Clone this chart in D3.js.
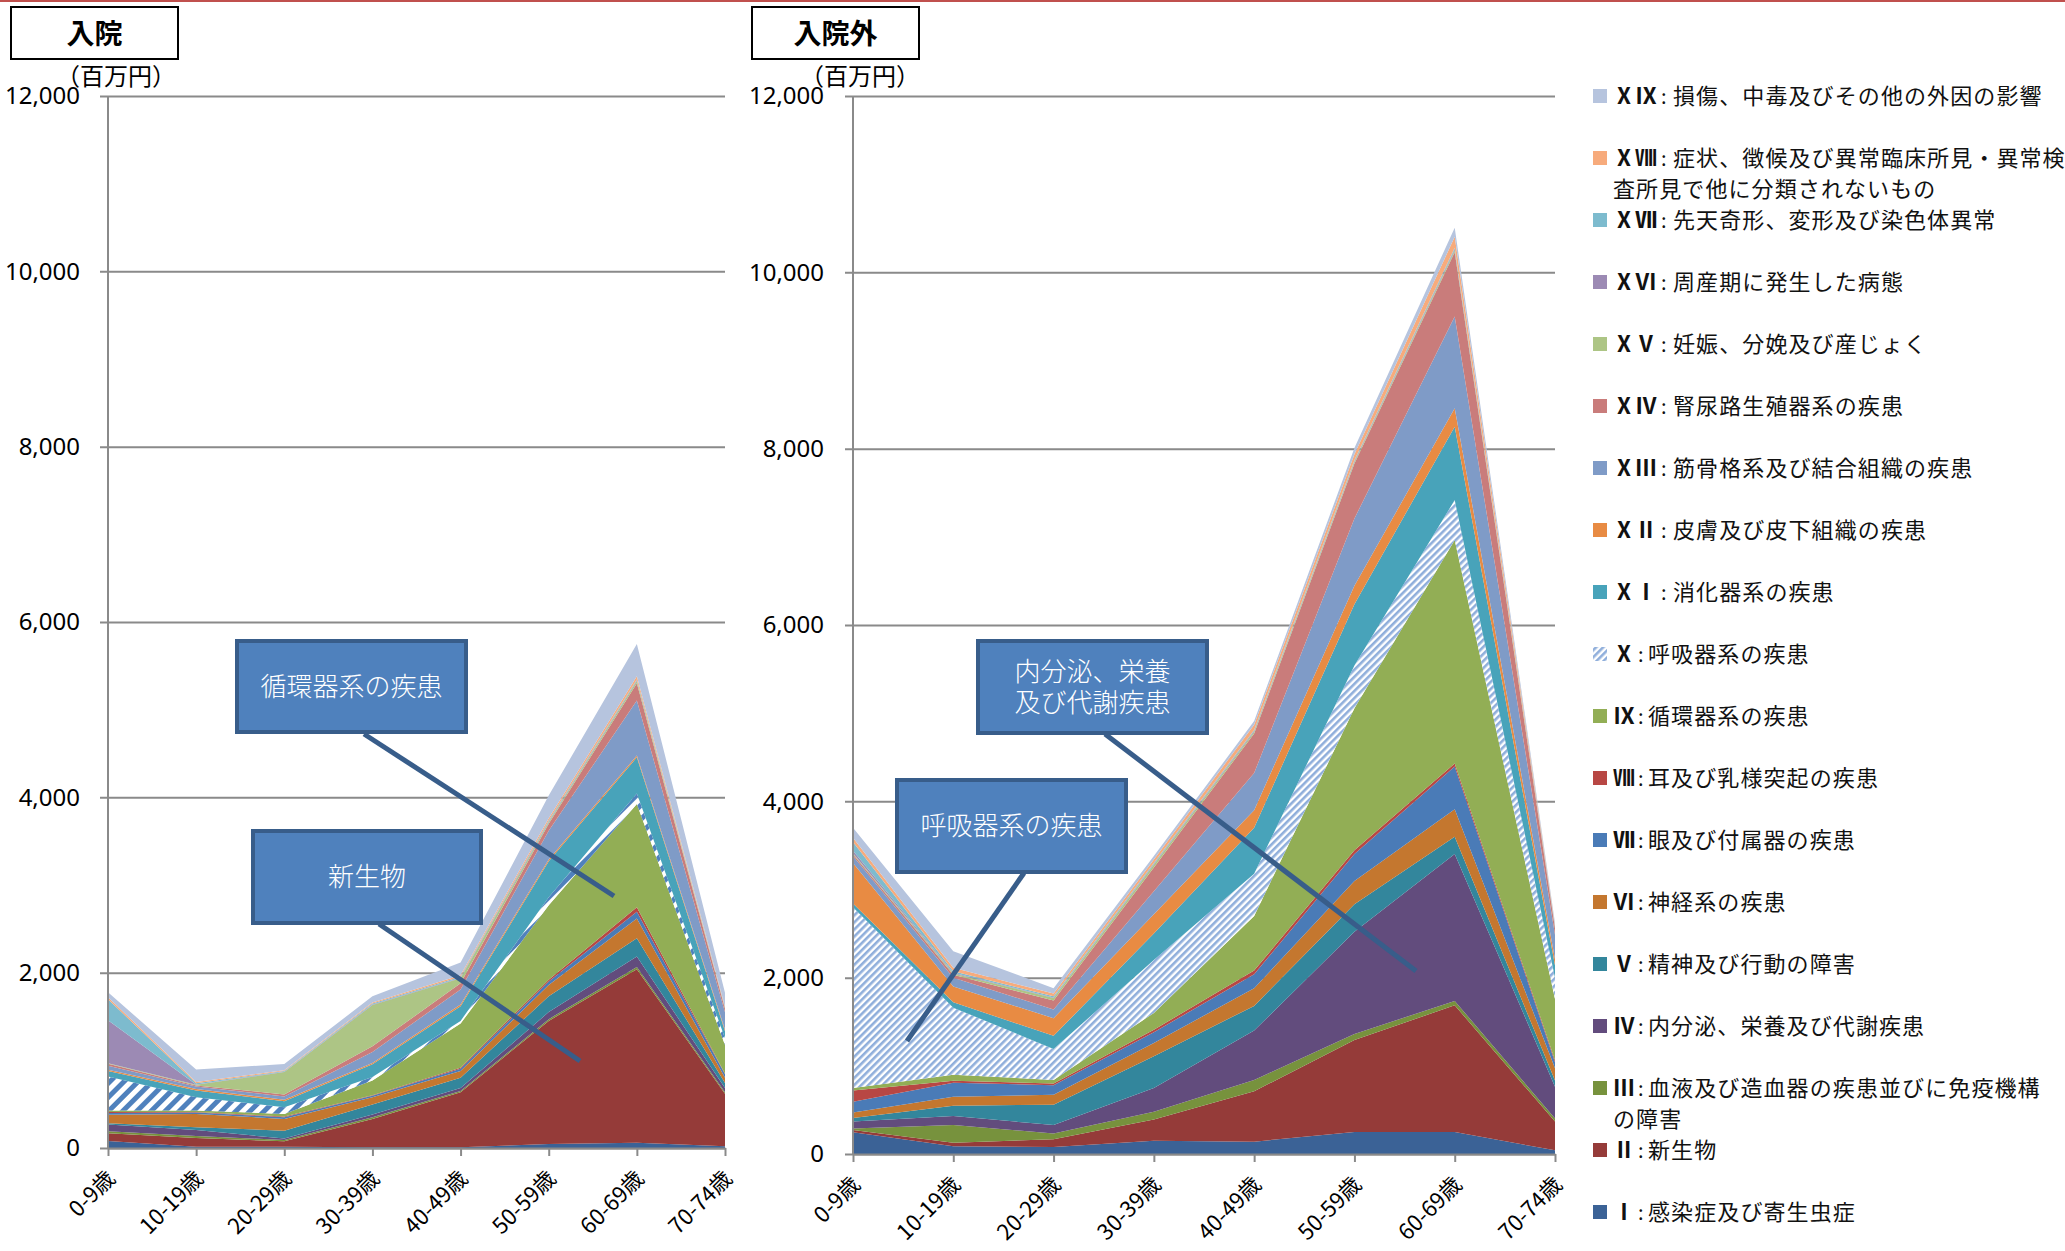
<!DOCTYPE html>
<html>
<head>
<meta charset="utf-8">
<script src="https://cdn.jsdelivr.net/npm/d3@7"></script>
<style>
  body { margin: 0; background: #fff; }
  svg { display: block; }
</style>
</head>
<body>
<svg id="chart" width="2065" height="1251"></svg>
<script>
// ---- data (百万円) ----
const ageGroups = ["0-9歳", "10-19歳", "20-29歳", "30-39歳", "40-49歳", "50-59歳", "60-69歳", "70-74歳"];
const yTicks = [0, 2000, 4000, 6000, 8000, 10000, 12000];

const seriesKeys = ["I", "II", "III", "IV", "V", "VI", "VII", "VIII", "IX", "X",
                    "XI", "XII", "XIII", "XIV", "XV", "XVI", "XVII", "XVIII", "XIX"];

// 入院
const in_I    = [80, 15, 15, 8, 8, 45, 60, 20];
const in_II   = [88, 100, 61, 324, 629, 1405, 1980, 600];
const in_III  = [23, 22, 16, 19, 12, 20, 26, 15];
const in_IV   = [76, 69, 15, 31, 34, 80, 118, 48];
const in_V    = [15, 31, 91, 114, 119, 180, 209, 59];
const in_VI   = [96, 152, 134, 84, 76, 130, 224, 59];
const in_VII  = [22, 16, 19, 15, 27, 40, 78, 39];
const in_VIII = [12, 7, 8, 8, 11, 20, 51, 8];
const in_IX   = [15, 15, 30, 168, 504, 850, 1179, 326];
const in_X    = [390, 153, 77, 38, 30, 90, 118, 79];
const in_XI   = [61, 76, 68, 145, 168, 410, 413, 79];
const in_XII  = [15, 16, 16, 16, 19, 20, 20, 19];
const in_XIII = [46, 30, 38, 125, 172, 330, 628, 197];
const in_XIV  = [23, 12, 23, 65, 69, 80, 196, 39];
const in_XV   = [4, 7, 255, 470, 57, 15, 28, 10];
const in_XVI  = [492, 4, 4, 7, 8, 10, 8, 3];
const in_XVII = [238, 15, 8, 12, 11, 10, 8, 3];
const in_XVIII = [25, 12, 8, 11, 16, 25, 36, 7];
const in_XIX  = [55, 143, 72, 70, 145, 260, 370, 160];

// 入院外
const out_I    = [248, 88, 80, 150, 140, 250, 250, 42];
const out_II   = [24, 40, 88, 240, 572, 1042, 1437, 326];
const out_III  = [16, 200, 64, 90, 128, 69, 49, 35];
const out_IV   = [80, 104, 96, 270, 560, 1160, 1667, 361];
const out_V    = [40, 116, 232, 360, 280, 312, 194, 69];
const out_VI   = [64, 100, 112, 150, 200, 264, 313, 139];
const out_VII  = [120, 160, 108, 120, 160, 306, 486, 70];
const out_VIII = [128, 24, 20, 30, 40, 41, 34, 20];
const out_IX   = [28, 68, 40, 190, 620, 1611, 2535, 695];
const out_X    = [2052, 760, 352, 600, 480, 487, 452, 243];
const out_XI   = [40, 60, 148, 300, 520, 694, 833, 139];
const out_XII  = [460, 180, 200, 220, 200, 208, 208, 69];
const out_XIII = [80, 100, 100, 260, 420, 764, 1042, 278];
const out_XIV  = [20, 32, 100, 270, 450, 625, 729, 74];
const out_XV   = [12, 16, 28, 30, 20, 17, 21, 10];
const out_XVI  = [28, 8, 8, 10, 10, 10, 14, 5];
const out_XVII = [100, 16, 12, 10, 10, 10, 14, 5];
const out_XVIII = [48, 40, 32, 40, 60, 67, 125, 15];
const out_XIX  = [112, 188, 60, 40, 40, 70, 104, 25];

const inpatient = [in_I, in_II, in_III, in_IV, in_V, in_VI, in_VII, in_VIII, in_IX, in_X,
                   in_XI, in_XII, in_XIII, in_XIV, in_XV, in_XVI, in_XVII, in_XVIII, in_XIX];
const outpatient = [out_I, out_II, out_III, out_IV, out_V, out_VI, out_VII, out_VIII, out_IX, out_X,
                    out_XI, out_XII, out_XIII, out_XIV, out_XV, out_XVI, out_XVII, out_XVIII, out_XIX];

// legend: numeral prefix + roman + label (second line if wrapped)
const legendPrefix = ["", "", "", "", "", "", "", "", "", "Ⅹ",
                      "Ⅹ", "Ⅹ", "Ⅹ", "Ⅹ", "Ⅹ", "Ⅹ", "Ⅹ", "Ⅹ", "Ⅹ"];
const legendRoman = ["Ⅰ", "Ⅱ", "Ⅲ", "Ⅳ", "Ⅴ", "Ⅵ", "Ⅶ", "Ⅷ", "Ⅸ", "",
                     "Ⅰ", "Ⅱ", "Ⅲ", "Ⅳ", "Ⅴ", "Ⅵ", "Ⅶ", "Ⅷ", "Ⅸ"];
const legendText = [
  ["感染症及び寄生虫症"],
  ["新生物"],
  ["血液及び造血器の疾患並びに免疫機構", "の障害"],
  ["内分泌、栄養及び代謝疾患"],
  ["精神及び行動の障害"],
  ["神経系の疾患"],
  ["眼及び付属器の疾患"],
  ["耳及び乳様突起の疾患"],
  ["循環器系の疾患"],
  ["呼吸器系の疾患"],
  ["消化器系の疾患"],
  ["皮膚及び皮下組織の疾患"],
  ["筋骨格系及び結合組織の疾患"],
  ["腎尿路生殖器系の疾患"],
  ["妊娠、分娩及び産じょく"],
  ["周産期に発生した病態"],
  ["先天奇形、変形及び染色体異常"],
  ["症状、徴候及び異常臨床所見・異常検", "査所見で他に分類されないもの"],
  ["損傷、中毒及びその他の外因の影響"]
];

const seriesColors = ["#3b6296", "#953b39", "#77923d", "#624c7d", "#33869c", "#c4772f",
                      "#4a7bb7", "#b84744", "#92ae55", "url(#hatch)", "#48a3ba", "#e88b43",
                      "#7f9bc7", "#c97c7b", "#adc585", "#9c8ab4", "#7dbbce", "#f7ab7c", "#b6c4de"];

const CJK = "'Noto Sans CJK JP', 'Noto Sans', sans-serif";
const svg = d3.select("#chart");

// hatch patterns for X (呼吸器系)
const defs = svg.append("defs");
function makeHatch(id, size, color, lw) {
  const p = defs.append("pattern")
    .attr("id", id)
    .attr("patternUnits", "userSpaceOnUse")
    .attr("width", size).attr("height", size)
    .attr("patternTransform", "rotate(45)");
  p.append("rect").attr("width", size).attr("height", size).attr("fill", "#fff");
  p.append("rect").attr("width", lw).attr("height", size).attr("fill", color);
}
makeHatch("hatchL", 10, "#4f81bd", 5);
makeHatch("hatchR", 5, "#8faedb", 2.6);
makeHatch("hatchLeg", 5, "#8faedb", 2.6);

// top red rule
svg.append("line").attr("x1", 0).attr("x2", 2065).attr("y1", 1).attr("y2", 1)
  .attr("stroke", "#c0504d").attr("stroke-width", 2);

function drawPanel(cfg) {
  const g = svg.append("g");
  const x = d3.scalePoint().domain(ageGroups).range([cfg.x0, cfg.x1]);
  const y = d3.scaleLinear().domain([0, 12000]).range([cfg.yb, cfg.yt]);

  // gridlines + y labels
  const ya = d3.axisLeft(y).tickValues(yTicks).tickFormat(d3.format(",")).tickSize(0).tickPadding(0);
  const yg = g.append("g").attr("transform", `translate(${cfg.x0},0)`).call(ya);
  yg.select(".domain").remove();
  yg.selectAll(".tick line")
    .attr("x1", -8).attr("x2", cfg.x1 - cfg.x0)
    .attr("stroke", "#8a8a8a").attr("stroke-width", 2);
  yg.selectAll(".tick text")
    .attr("x", cfg.labelX - cfg.x0)
    .attr("font-family", "'Noto Sans', sans-serif")
    .attr("font-size", 24).attr("fill", "#000");

  // stacked areas
  const rows = ageGroups.map((a, i) => {
    const r = {age: a};
    seriesKeys.forEach((k, j) => r[k] = cfg.values[j][i]);
    return r;
  });
  const stacked = d3.stack().keys(seriesKeys)(rows);
  const area = d3.area()
    .x(d => x(d.data.age))
    .y0(d => y(d[0]))
    .y1(d => y(d[1]));
  g.append("g").selectAll("path")
    .data(stacked)
    .join("path")
    .attr("d", area)
    .attr("fill", (d, i) => i === 9 ? `url(#${cfg.hatch})` : seriesColors[i]);

  // axes lines
  g.append("line").attr("x1", cfg.x0).attr("x2", cfg.x0).attr("y1", cfg.yt).attr("y2", cfg.yb)
    .attr("stroke", "#8a8a8a").attr("stroke-width", 2);
  const xa = d3.axisBottom(x).tickSize(8).tickSizeOuter(0);
  const xg = g.append("g").attr("transform", `translate(0,${cfg.yb})`).call(xa);
  xg.select(".domain").attr("stroke", "#8a8a8a").attr("stroke-width", 2);
  xg.selectAll(".tick line").attr("stroke", "#8a8a8a").attr("stroke-width", 2);
  xg.selectAll(".tick text")
    .attr("font-family", CJK).attr("font-size", 22).attr("fill", "#000")
    .attr("text-anchor", "end")
    .attr("dy", 0).attr("y", 0)
    .attr("transform", "translate(8,32) rotate(-45)");

  // unit label
  g.append("text").attr("x", cfg.unitX).attr("y", 85)
    .attr("font-family", CJK).attr("font-size", 24).attr("fill", "#000")
    .text("（百万円）");

  // title box
  g.append("rect").attr("x", cfg.titleX).attr("y", 7).attr("width", 167).attr("height", 52)
    .attr("fill", "#fff").attr("stroke", "#000").attr("stroke-width", 2);
  g.append("text").attr("x", cfg.titleX + 83.5).attr("y", 44)
    .attr("text-anchor", "middle")
    .attr("font-family", CJK).attr("font-size", 28).attr("font-weight", 700)
    .text(cfg.title);

  // callouts
  cfg.callouts.forEach(c => {
    g.append("line").attr("x1", c.from[0]).attr("y1", c.from[1])
      .attr("x2", c.to[0]).attr("y2", c.to[1])
      .attr("stroke", "#385d8a").attr("stroke-width", 5);
    g.append("rect").attr("x", c.box[0]).attr("y", c.box[1])
      .attr("width", c.box[2]).attr("height", c.box[3])
      .attr("fill", "#4f81bd").attr("stroke", "#385d8a").attr("stroke-width", 4);
    const cx = c.box[0] + c.box[2] / 2;
    const cy = c.box[1] + c.box[3] / 2;
    c.lines.forEach((ln, k) => {
      g.append("text").attr("text-anchor", "middle")
        .attr("font-family", CJK).attr("font-size", 26).attr("font-weight", 300)
        .attr("fill", "#fff")
        .attr("x", cx)
        .attr("y", cy + 9 + (k - (c.lines.length - 1) / 2) * 31)
        .text(ln);
    });
  });
}

drawPanel({
  title: "入院", titleX: 11, unitX: 56,
  x0: 108, x1: 725, yb: 1148, yt: 96, labelX: 80,
  values: inpatient, hatch: "hatchL",
  callouts: [
    {box: [237, 641, 229, 91], lines: ["循環器系の疾患"], from: [364, 734], to: [614, 896]},
    {box: [253, 831, 228, 92], lines: ["新生物"], from: [379, 924], to: [580, 1061]}
  ]
});

drawPanel({
  title: "入院外", titleX: 752, unitX: 800,
  x0: 853, x1: 1555, yb: 1154, yt: 96, labelX: 824,
  values: outpatient, hatch: "hatchR",
  callouts: [
    {box: [978, 641, 229, 92], lines: ["内分泌、栄養", "及び代謝疾患"], from: [1105, 734], to: [1416, 971]},
    {box: [897, 780, 229, 92], lines: ["呼吸器系の疾患"], from: [1024, 873], to: [907, 1041]}
  ]
});

// legend (top = XIX)
const leg = svg.append("g");
for (let k = 0; k < 19; k++) {
  const i = 18 - k;
  const cy = 96 + k * 62;
  const row = leg.append("g");
  row.append("rect").attr("x", 1593).attr("y", cy - 7).attr("width", 14).attr("height", 14)
    .attr("fill", i === 9 ? "url(#hatchLeg)" : seriesColors[i]);

  const two = legendPrefix[i] && legendRoman[i];
  const colonX = two ? 1661 : 1638;
  const textX = two ? 1673 : 1648;
  const t = row.append("text").attr("y", cy + 8)
    .attr("font-family", CJK).attr("font-size", 22).attr("fill", "#111");
  t.append("tspan").attr("x", 1613).attr("font-weight", 700)
    .text(legendPrefix[i] + legendRoman[i]);
  t.append("tspan").attr("x", colonX).attr("font-size", 20).text(":");
  t.append("tspan").attr("x", textX).attr("letter-spacing", 1.1).text(legendText[i][0]);
  if (legendText[i][1]) {
    row.append("text").attr("x", 1613).attr("y", cy + 39)
      .attr("font-family", CJK).attr("font-size", 22).attr("fill", "#111")
      .attr("letter-spacing", 1.1).text(legendText[i][1]);
  }
}
</script>
</body>
</html>
